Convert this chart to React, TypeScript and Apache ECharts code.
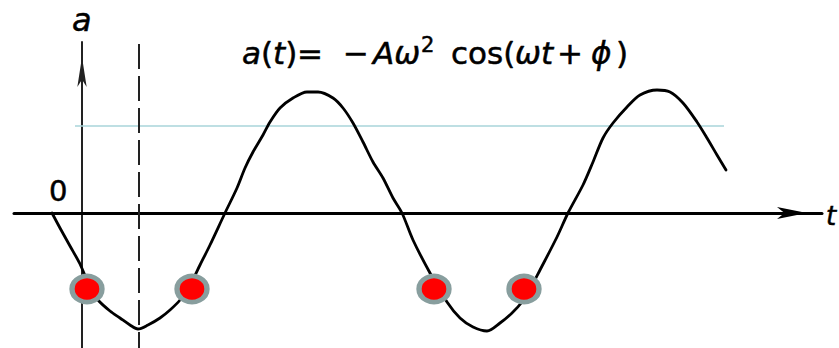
import React, { useEffect, useRef } from "react";
import * as echarts from "echarts";

// Curve a(t) (t and a in chart units)
const curveT = [
  -3.0, -2.2, -1.2, -0.2, 0.8, 1.6, 2.8, 3.8, 4.8, 5.6, 6.6, 7.8, 8.8, 9.8, 10.8, 11.8, 12.8,
  14.3, 15.5, 16.3, 17.1, 18.1, 18.8, 19.8, 21.1, 22.5, 23.6, 25.1, 26.1, 27.1, 28.1, 29.1, 30.1, 31.1,
  32.0, 33.1, 34.8, 36.5, 37.8, 39.1, 40.5, 41.8, 43.0, 44.0, 44.8, 45.8, 47.5,
  48.6, 50.1, 51.1, 52.1, 53.1, 54.5, 55.8, 57.5, 58.8, 60.1, 61.5, 62.5, 63.5, 64.4,
];
const curveA = [
  0, -1.5, -3.3, -5.1, -7.4, -8.7, -9.8, -10.5, -11.2, -11.6, -11.2, -10.5, -9.7, -8.7, -7.2, -5.2, -3.2,
  0, 2.5, 4.5, 6.1, 7.8, 9.1, 10.5, 11.5, 12.1, 12.1, 11.5, 10.5, 9.0, 7.1, 5.1, 3.5, 1.5,
  0, -2.7, -6.0, -8.9, -10.5, -11.4, -11.8, -11.0, -10.0, -8.9, -7.6, -5.7, -2.4,
  0, 2.8, 5.1, 7.5, 9.0, 10.6, 11.8, 12.3, 12.1, 11.0, 9.1, 7.5, 5.8, 4.3,
];

// Highlighted points
const dotT = [0.5, 11.0, 35.2, 44.2];
const dotA = [-7.6, -7.6, -7.6, -7.6];

// Dashed vertical reference line
const dashT = [5.7, 5.7];
const dashA = [16.9, -13.5];

// Light blue horizontal reference line
const blueT = [-0.7, 64.2];
const blueA = [8.7, 8.7];

// Axis extents
const tRange = [-6.8, 74.0];
const aRange = [-13.5, 17.1];

const zip = (xs: number[], ys: number[]) => xs.map((x, i) => [x, ys[i]]);

export default function App() {
  const ref = useRef<HTMLDivElement>(null);
  useEffect(() => {
    if (!ref.current) return;
    const chart = echarts.init(ref.current, undefined, { renderer: "svg" });
    const font = '"DejaVu Sans", sans-serif';
    const fs = 31;
    const txt = (x: number, y: number, text: string, italic = false, size = fs, z = 10) => ({
      type: "text",
      x,
      y,
      z,
      style: {
        text,
        fill: "#000",
        stroke: "#000",
        lineWidth: 0.5,
        font: `${italic ? "italic " : ""}${size}px ${font}`,
        align: "left",
        verticalAlign: "middle",
      },
    });
    chart.setOption({
      animation: false,
      backgroundColor: "#ffffff",
      grid: { left: 14, right: 17, top: 42, bottom: 0, containLabel: false },
      xAxis: {
        type: "value",
        min: tRange[0],
        max: tRange[1],
        axisLine: {
          show: true,
          onZero: true,
          symbol: ["none", "arrow"],
          symbolSize: [9, 30],
          symbolOffset: [0, -15],
          lineStyle: { color: "#000", width: 3 },
        },
        axisTick: { show: false },
        axisLabel: { show: false },
        splitLine: { show: false },
      },
      yAxis: {
        type: "value",
        min: aRange[0],
        max: aRange[1],
        axisLine: {
          show: true,
          onZero: true,
          symbol: ["none", "arrow"],
          symbolSize: [7, 30],
          symbolOffset: [0, -15],
          lineStyle: { color: "#222", width: 2 },
        },
        axisTick: { show: false },
        axisLabel: { show: false },
        splitLine: { show: false },
      },
      series: [
        {
          type: "line",
          name: "blue",
          data: zip(blueT, blueA),
          showSymbol: false,
          symbol: "none",
          lineStyle: { color: "#a9d5da", width: 1.6 },
          z: 1,
          silent: true,
        },
        {
          type: "line",
          name: "dash",
          data: zip(dashT, dashA),
          showSymbol: false,
          symbol: "none",
          lineStyle: { color: "#222", width: 2, type: [25, 7] },
          z: 1,
          silent: true,
        },
        {
          type: "line",
          name: "a(t)",
          data: zip(curveT, curveA),
          smooth: 0.3,
          showSymbol: false,
          symbol: "none",
          lineStyle: { color: "#000", width: 2.8, cap: "round", join: "round" },
          z: 3,
        },
        {
          type: "scatter",
          name: "points",
          data: zip(dotT, dotA),
          symbol: "circle",
          symbolSize: [30, 26],
          itemStyle: { color: "#ff0000", borderColor: "#889e9e", borderWidth: 5, opacity: 1 },
          z: 5,
        },
      ],
      graphic: [
        txt(72, 20, "a", true, 32),
        txt(49, 191, "0", false, 29),
        txt(826, 216, "t", true, 26),
        {
          type: "text",
          x: 242,
          y: 53,
          z: 10,
          style: {
            text: "{i|a}({i|t})",
            fill: "#000",
            stroke: "#000",
            lineWidth: 0.5,
            font: `${fs}px ${font}`,
            verticalAlign: "middle",
            rich: { i: { fontStyle: "italic", fontSize: fs, fontFamily: font } },
          },
        },
        txt(297, 53, "="),
        txt(343, 53, "−"),
        txt(373, 53, "Aω", true),
        txt(421, 45, "2", false, 21),
        txt(451, 53, "cos("),
        txt(515, 53, "ωt", true),
        txt(557, 53, "+"),
        txt(591, 53, "ϕ", true),
        txt(616, 53, ")"),
      ],
    });
    return () => chart.dispose();
  }, []);
  return (
    <div
      ref={ref}
      style={{ position: "absolute", left: 0, top: 0, width: 839, height: 348, background: "#fff" }}
    />
  );
}
